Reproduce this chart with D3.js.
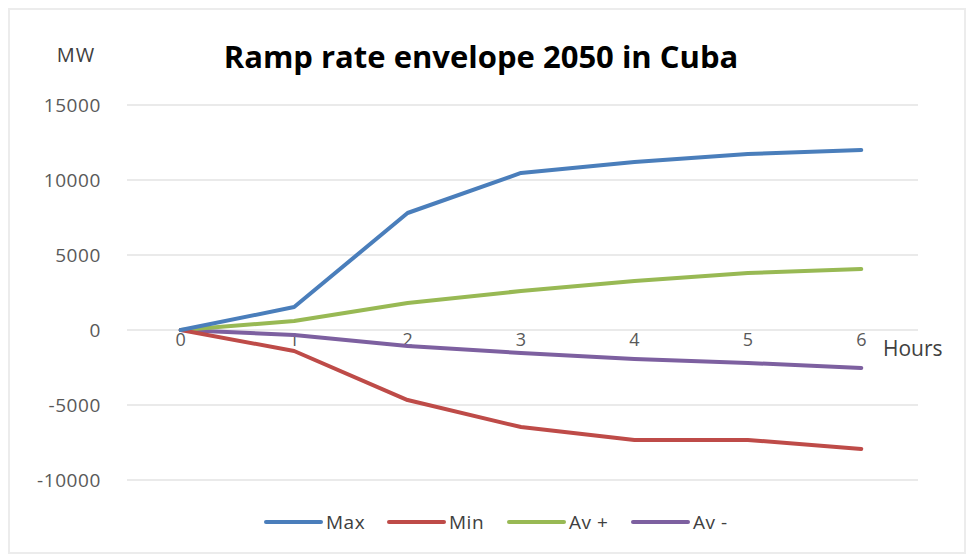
<!DOCTYPE html>
<html lang="en">
<head>
    <script src='https://d3js.org/d3.v7.min.js'></script>
    <style>
        body { margin: 0; background: #fff; }
        text { font-family: "Open Sans", "Liberation Sans", sans-serif; }
    </style>
</head>
<body>
    <script>
        const hours = ["0", "1", "2", "3", "4", "5", "6"];
        const maxVals = [0, 1530, 7800, 10470, 11200, 11730, 12000];
        const minVals = [0, -1400, -4670, -6470, -7330, -7330, -7930];
        const avPlus = [0, 600, 1800, 2600, 3270, 3800, 4070];
        const avMinus = [0, -330, -1070, -1530, -1930, -2200, -2530];
        const yTicks = [-10000, -5000, 0, 5000, 10000, 15000];

        const series = [
            { name: "Max", values: maxVals, color: "#4a7ebb" },
            { name: "Min", values: minVals, color: "#be4b48" },
            { name: "Av +", values: avPlus, color: "#98b954" },
            { name: "Av -", values: avMinus, color: "#7d60a0" }
        ];

        const width = 968, height = 556;
        const svg = d3.select("body").append("svg")
            .attr("width", width)
            .attr("height", height);

        // faint frame
        svg.append("rect")
            .attr("x", 9).attr("y", 9)
            .attr("width", width - 12).attr("height", height - 12)
            .attr("fill", "#fff")
            .attr("stroke", "#ececec")
            .attr("stroke-width", 2);

        const x = d3.scaleBand()
            .domain(hours)
            .range([124, 918]);
        const y = d3.scaleLinear()
            .domain([-10000, 15000])
            .range([480, 105]);

        // gridlines
        svg.append("g")
            .selectAll("line")
            .data(yTicks)
            .join("line")
            .attr("x1", 127).attr("x2", 918)
            .attr("y1", d => y(d)).attr("y2", d => y(d))
            .attr("stroke", "#e3e3e3")
            .attr("stroke-width", 1.5);

        // y axis labels
        svg.append("g")
            .selectAll("text")
            .data(yTicks)
            .join("text")
            .attr("x", 101)
            .attr("y", d => y(d) + 7)
            .attr("text-anchor", "end")
            .attr("font-size", 19)
            .attr("letter-spacing", 0.6)
            .attr("fill", "#595959")
            .text(d => d);

        // x axis labels (under the zero line)
        svg.append("g")
            .selectAll("text")
            .data(hours)
            .join("text")
            .attr("x", d => x(d) + x.bandwidth() / 2)
            .attr("y", y(0) + 16)
            .attr("text-anchor", "middle")
            .attr("font-size", 18)
            .attr("fill", "#595959")
            .text(d => d);

        const line = d3.line()
            .x((d, i) => x(hours[i]) + x.bandwidth() / 2)
            .y(d => y(d));

        svg.append("g")
            .selectAll("path")
            .data(series.slice().reverse())
            .join("path")
            .attr("fill", "none")
            .attr("stroke", d => d.color)
            .attr("stroke-width", 4)
            .attr("stroke-linejoin", "round")
            .attr("stroke-linecap", "round")
            .attr("d", d => line(d.values));

        // title and axis names
        svg.append("text")
            .attr("x", 481).attr("y", 68)
            .attr("text-anchor", "middle")
            .attr("font-size", 31)
            .attr("font-weight", "bold")
            .attr("fill", "#000")
            .text("Ramp rate envelope 2050 in Cuba");

        svg.append("text")
            .attr("x", 76).attr("y", 62)
            .attr("text-anchor", "middle")
            .attr("font-size", 20)
            .attr("letter-spacing", 1)
            .attr("fill", "#404040")
            .text("MW");

        svg.append("text")
            .attr("x", 883).attr("y", 356)
            .attr("font-size", 21)
            .attr("fill", "#404040")
            .text("Hours");

        // legend
        const legendX = [266, 389, 509, 633];
        const legend = svg.append("g")
            .selectAll("g")
            .data(series)
            .join("g")
            .attr("transform", (d, i) => `translate(${legendX[i]},522)`);
        legend.append("line")
            .attr("x1", 0).attr("x2", 55)
            .attr("stroke", d => d.color)
            .attr("stroke-width", 4)
            .attr("stroke-linecap", "round");
        legend.append("text")
            .attr("x", 60).attr("y", 7)
            .attr("font-size", 19)
            .attr("letter-spacing", 0.5)
            .attr("fill", "#404040")
            .text(d => d.name);
    </script>
</body>
</html>
